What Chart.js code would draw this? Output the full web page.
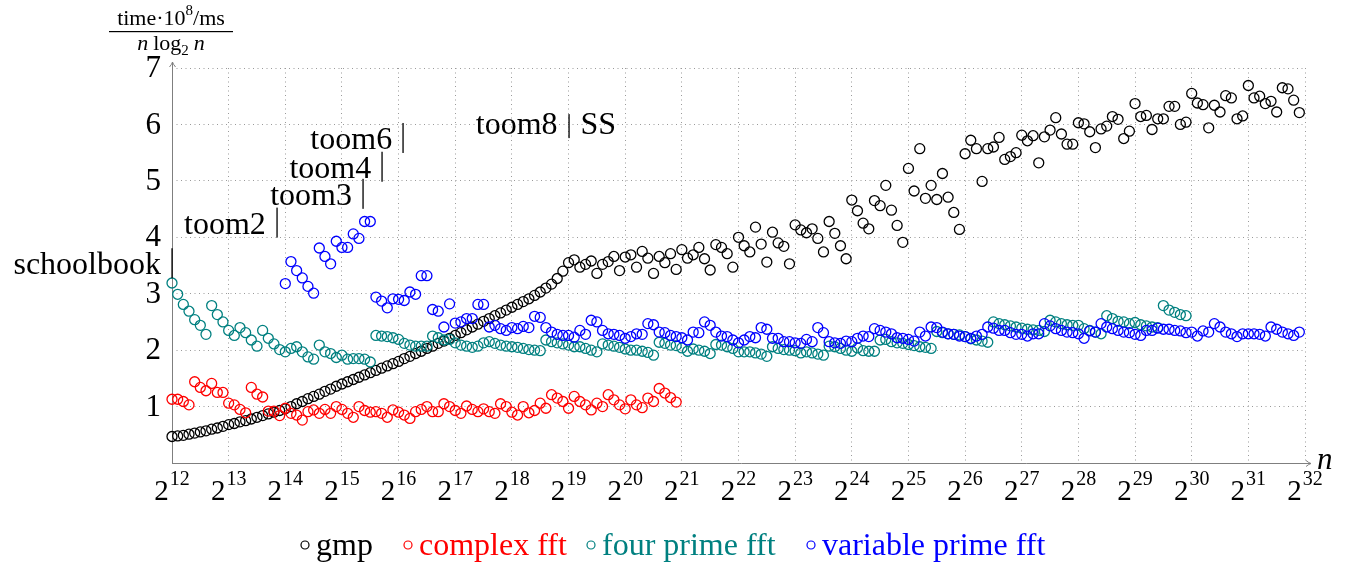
<!DOCTYPE html>
<html><head><meta charset="utf-8">
<script src="https://cdn.jsdelivr.net/npm/chart.js@4/dist/chart.umd.min.js"></script>
<style>html,body{margin:0;padding:0;background:#fff;}canvas{display:block;}</style>
</head><body>
<canvas id="c" width="1348" height="565"></canvas>
<script>
// Samples are taken at n = 2^(start + k*STEP)
const STEP = 0.1;

const gmpStart = 12;
const gmp = [
  0.47,0.48,0.49,0.51,0.53,0.55,0.57,0.60,0.62,0.65,
  0.68,0.70,0.73,0.75,0.78,0.81,0.84,0.87,0.90,0.93,
  0.96,1.00,1.05,1.09,1.14,1.18,1.22,1.27,1.31,1.36,
  1.40,1.44,1.48,1.52,1.56,1.60,1.64,1.68,1.72,1.76,
  1.80,1.85,1.89,1.94,1.98,2.03,2.07,2.12,2.16,2.21,
  2.26,2.31,2.36,2.41,2.46,2.51,2.56,2.61,2.66,2.71,
  2.76,2.81,2.86,2.91,2.97,3.03,3.10,3.17,3.27,3.40,
  3.55,3.60,3.47,3.52,3.58,3.36,3.52,3.57,3.66,3.41,
  3.65,3.69,3.47,3.75,3.63,3.36,3.66,3.55,3.71,3.43,
  3.78,3.63,3.69,3.82,3.62,3.42,3.87,3.82,3.71,3.47,
  4.00,3.85,3.74,4.18,3.88,3.56,4.09,3.90,3.84,3.53,
  4.22,4.13,4.08,4.15,3.98,3.74,4.28,4.07,3.85,3.62,
  4.66,4.47,4.25,4.15,4.65,4.56,4.92,4.48,4.21,3.91,
  5.22,4.82,5.57,4.69,4.92,4.67,5.13,4.71,4.44,4.14,
  5.48,5.72,5.57,4.99,5.57,5.60,5.77,5.38,5.43,5.50,
  5.81,5.71,5.80,5.32,5.78,5.90,6.12,5.83,5.65,5.65,
  6.03,6.01,5.87,5.59,5.92,5.97,6.14,6.09,5.75,5.88,
  6.37,6.14,6.16,5.91,6.10,6.10,6.32,6.32,6.00,6.04,
  6.55,6.38,6.35,5.94,6.34,6.22,6.51,6.47,6.10,6.15,
  6.69,6.47,6.50,6.37,6.41,6.22,6.65,6.63,6.43,6.21
];

const complexStart = 12;
const complexFft = [
  1.13,1.13,1.09,1.03,1.44,1.34,1.28,1.41,1.25,1.25,
  1.06,1.03,0.95,0.89,1.34,1.22,1.17,0.92,0.92,0.84,
  0.97,0.88,0.85,0.76,0.91,0.94,0.88,0.95,0.88,1.00,
  0.95,0.88,0.81,1.00,0.93,0.90,0.91,0.88,0.81,0.94,
  0.90,0.85,0.79,0.91,0.95,1.00,0.91,0.91,1.05,1.00,
  0.93,0.88,1.01,0.95,0.91,0.96,0.91,0.88,1.05,1.00,
  0.90,0.85,1.00,0.89,0.93,1.06,0.97,1.21,1.15,1.09,
  0.97,1.18,1.09,1.03,0.94,1.06,1.00,1.21,1.12,1.03,
  0.96,1.12,1.03,0.98,1.15,1.09,1.32,1.24,1.16,1.08
];

const fourPrimeStart = 12;
const fourPrimeFft = [
  3.19,2.99,2.81,2.69,2.54,2.44,2.28,2.79,2.63,2.50,
  2.35,2.26,2.40,2.31,2.18,2.07,2.35,2.21,2.11,2.01,
  1.97,2.03,2.06,1.97,1.88,1.84,2.09,1.97,1.94,1.87,
  1.91,1.84,1.85,1.85,1.84,1.79,2.26,2.25,2.24,2.22,
  2.19,2.12,2.09,2.07,2.07,2.07,2.25,2.22,2.18,2.19,
  2.13,2.09,2.07,2.05,2.07,2.13,2.15,2.12,2.09,2.07,
  2.06,2.05,2.03,2.01,2.00,1.99,2.18,2.15,2.13,2.11,
  2.09,2.06,2.06,2.03,2.00,1.97,2.11,2.09,2.07,2.05,
  2.02,2.00,2.00,1.98,1.96,1.91,2.14,2.12,2.09,2.08,
  2.04,1.98,2.02,2.00,1.98,1.94,2.10,2.09,2.06,2.03,
  1.97,1.97,1.97,1.95,1.93,1.89,2.06,2.03,2.01,2.00,
  1.99,1.95,1.97,1.95,1.93,1.91,2.07,2.06,2.03,2.00,
  1.98,2.04,1.99,1.98,1.98,2.18,2.19,2.15,2.13,2.12,
  2.10,2.08,2.06,2.05,2.03,2.33,2.31,2.29,2.28,2.27,
  2.24,2.20,2.18,2.16,2.14,2.50,2.47,2.45,2.43,2.41,
  2.39,2.37,2.36,2.35,2.33,2.53,2.50,2.47,2.45,2.44,
  2.44,2.38,2.35,2.32,2.29,2.61,2.56,2.51,2.50,2.47,
  2.49,2.45,2.43,2.41,2.40,2.79,2.71,2.67,2.63,2.61
];

const variablePrimeStart = 14;
const variablePrimeFft = [
  3.18,3.57,3.41,3.28,3.13,3.01,3.81,3.66,3.53,3.93,
  3.82,3.82,4.06,3.98,4.28,4.28,2.94,2.87,2.75,2.91,
  2.90,2.88,3.03,2.99,3.32,3.32,2.72,2.69,2.41,2.82,
  2.48,2.50,2.56,2.56,2.81,2.81,2.41,2.44,2.38,2.35,
  2.40,2.38,2.42,2.40,2.60,2.58,2.40,2.32,2.28,2.26,
  2.26,2.23,2.35,2.28,2.53,2.50,2.35,2.29,2.28,2.26,
  2.21,2.24,2.29,2.28,2.47,2.45,2.32,2.31,2.26,2.24,
  2.22,2.18,2.32,2.31,2.50,2.44,2.32,2.25,2.24,2.18,
  2.13,2.18,2.24,2.22,2.40,2.37,2.21,2.21,2.15,2.15,
  2.13,2.12,2.19,2.15,2.40,2.31,2.15,2.13,2.12,2.16,
  2.15,2.21,2.25,2.24,2.38,2.35,2.32,2.29,2.22,2.21,
  2.19,2.16,2.32,2.25,2.41,2.40,2.32,2.29,2.28,2.25,
  2.24,2.21,2.25,2.28,2.41,2.39,2.35,2.35,2.31,2.28,
  2.28,2.25,2.29,2.29,2.47,2.43,2.38,2.35,2.32,2.31,
  2.29,2.21,2.34,2.32,2.47,2.41,2.38,2.35,2.32,2.31,
  2.28,2.26,2.35,2.35,2.39,2.37,2.37,2.35,2.34,2.31,
  2.32,2.25,2.34,2.32,2.47,2.41,2.32,2.29,2.24,2.29,
  2.29,2.29,2.28,2.25,2.41,2.37,2.32,2.29,2.26,2.32
];

const seriesLabels = ['gmp', 'complex fft', 'four prime fft', 'variable prime fft'];
const xTickExponents = [12,13,14,15,16,17,18,19,20,21,22,23,24,25,26,27,28,29,30,31,32];
const yTickValues = [1,2,3,4,5,6,7];

// Algorithm thresholds (log2 n) and label heights
const thresholdNames = ['schoolbook', 'toom2', 'toom3', 'toom4', 'toom6', 'toom8'];
const thresholdLog2 = [12, 13.85, 15.37, 15.71, 16.08, 19.0];
const thresholdLevel = [3.54, 4.26, 4.77, 5.25, 5.76, 5.97];

// ---------- styling ----------
const COLORS = ['#000000', '#ff0000', '#008080', '#0000ff'];
const SERIF = '"Liberation Serif", "DejaVu Serif", serif';

function toPoints(start, values) {
  return values.map((v, i) => ({ x: Math.round((start + i * STEP) * 100) / 100, y: v }));
}

const seriesData = [
  toPoints(gmpStart, gmp),
  toPoints(complexStart, complexFft),
  toPoints(fourPrimeStart, fourPrimeFft),
  toPoints(variablePrimeStart, variablePrimeFft)
];

const datasets = seriesData.map((pts, i) => ({
  label: seriesLabels[i],
  data: pts,
  showLine: false,
  pointStyle: 'circle',
  pointRadius: 5,
  pointBorderWidth: 1.3,
  pointBorderColor: COLORS[i],
  borderColor: COLORS[i],
  pointBackgroundColor: 'rgba(0,0,0,0)',
  backgroundColor: 'rgba(0,0,0,0)',
  clip: false,
  order: 3 - i
}));

function arrowHead(ctx, x, y, dir) {
  ctx.beginPath();
  if (dir === 'up') {
    ctx.moveTo(x - 3, y + 5); ctx.quadraticCurveTo(x - 0.5, y + 2, x, y);
    ctx.quadraticCurveTo(x + 0.5, y + 2, x + 3, y + 5);
  } else {
    ctx.moveTo(x - 5, y - 3); ctx.quadraticCurveTo(x - 2, y - 0.5, x, y);
    ctx.quadraticCurveTo(x - 2, y + 0.5, x - 5, y + 3);
  }
  ctx.stroke();
}

const decor = {
  id: 'decor',
  beforeDatasetsDraw(chart) {
    const { ctx, chartArea: a } = chart;
    ctx.save();
    ctx.strokeStyle = '#7f7f7f';
    ctx.lineWidth = 1;
    ctx.beginPath();
    ctx.moveTo(a.left, a.bottom + 0.5); ctx.lineTo(a.right + 6, a.bottom + 0.5);
    ctx.moveTo(a.left + 0.5, a.bottom); ctx.lineTo(a.left + 0.5, a.top - 6);
    ctx.stroke();
    arrowHead(ctx, a.left + 0.5, a.top - 6, 'up');
    arrowHead(ctx, a.right + 6, a.bottom + 0.5, 'right');
    ctx.restore();
  },
  afterDraw(chart) {
    const { ctx, chartArea: a, scales: { x: xs, y: ys } } = chart;
    ctx.save();
    ctx.fillStyle = '#000';
    ctx.textBaseline = 'alphabetic';

    // x tick labels 2^k
    xTickExponents.forEach(k => {
      const px = xs.getPixelForValue(k);
      ctx.font = '29px ' + SERIF;
      const wb = ctx.measureText('2').width;
      ctx.font = '20px ' + SERIF;
      const we = ctx.measureText(String(k)).width;
      const x0 = px - (wb + we + 1) / 2;
      ctx.font = '29px ' + SERIF;
      ctx.textAlign = 'left';
      ctx.fillText('2', x0, a.bottom + 37);
      ctx.font = '20px ' + SERIF;
      ctx.fillText(String(k), x0 + wb + 1, a.bottom + 22);
    });

    // y tick labels
    ctx.font = '31px ' + SERIF;
    ctx.textAlign = 'right';
    ctx.textBaseline = 'middle';
    yTickValues.forEach(v => {
      ctx.fillText(String(v), a.left - 11, ys.getPixelForValue(v) + 1);
    });
    ctx.textBaseline = 'alphabetic';

    // x axis label
    ctx.font = 'italic 31px ' + SERIF;
    ctx.textAlign = 'left';
    ctx.fillText('n', a.right + 12, a.bottom + 6);

    // y axis label as fraction
    const cx = a.left - 1;
    ctx.font = '22px ' + SERIF;
    const p1 = 'time\u00B710', p2 = '8', p3 = '/ms';
    const w1 = ctx.measureText(p1).width, w3 = ctx.measureText(p3).width;
    ctx.font = '15px ' + SERIF;
    const w2 = ctx.measureText(p2).width;
    let nx = cx - (w1 + w2 + w3) / 2;
    ctx.font = '22px ' + SERIF;
    ctx.fillText(p1, nx, 25);
    ctx.font = '15px ' + SERIF;
    ctx.fillText(p2, nx + w1, 15);
    ctx.font = '22px ' + SERIF;
    ctx.fillText(p3, nx + w1 + w2, 25);
    ctx.fillRect(cx - 62, 31, 124, 1.2);
    // denominator: n log2 n
    ctx.font = 'italic 22px ' + SERIF;
    const wn = ctx.measureText('n').width;
    ctx.font = '22px ' + SERIF;
    const wl = ctx.measureText('log').width;
    ctx.font = '15px ' + SERIF;
    const ws = ctx.measureText('2').width;
    const gap = 5;
    const tot = wn + gap + wl + ws + gap + wn;
    let dx = cx - tot / 2;
    ctx.font = 'italic 22px ' + SERIF; ctx.fillText('n', dx, 50); dx += wn + gap;
    ctx.font = '22px ' + SERIF; ctx.fillText('log', dx, 50); dx += wl;
    ctx.font = '15px ' + SERIF; ctx.fillText('2', dx, 55); dx += ws + gap;
    ctx.font = 'italic 22px ' + SERIF; ctx.fillText('n', dx, 50);

    // threshold annotations
    ctx.font = '32px ' + SERIF;
    thresholdNames.forEach((name, i) => {
      const bx = xs.getPixelForValue(thresholdLog2[i]);
      const by = ys.getPixelForValue(thresholdLevel[i]);
      const h = i === 5 ? 12 : 15;
      ctx.fillRect(Math.round(bx) - 0.6, by - h, 1.3, 2 * h);
      ctx.textAlign = 'right';
      ctx.fillText(name, bx - 11, by + h - 4);
      if (i === 5) {
        ctx.textAlign = 'left';
        ctx.fillText('SS', bx + 12, by + h - 4);
      }
    });

    // legend
    const markerX = [305, 408, 591, 811];
    const ly = 545;
    chart.data.datasets.forEach((ds, i) => {
      ctx.strokeStyle = COLORS[i];
      ctx.lineWidth = 1.2;
      ctx.beginPath();
      ctx.arc(markerX[i], ly, 4, 0, Math.PI * 2);
      ctx.stroke();
      ctx.fillStyle = COLORS[i];
      ctx.font = '32px ' + SERIF;
      ctx.textAlign = 'left';
      ctx.fillText(ds.label, markerX[i] + 11, ly + 10);
    });
    ctx.restore();
  }
};

new Chart(document.getElementById('c'), {
  type: 'scatter',
  data: { datasets },
  options: {
    responsive: false,
    animation: false,
    devicePixelRatio: 1,
    layout: { padding: { left: 172, right: 43, top: 68, bottom: 102 } },
    plugins: { legend: { display: false }, tooltip: { enabled: false } },
    scales: {
      x: {
        type: 'linear', min: 12, max: 32,
        ticks: { display: false, stepSize: 1 },
        grid: { color: '#9a9a9a', lineWidth: 1, drawTicks: false },
        border: { display: false, dash: [1, 3.5] }
      },
      y: {
        type: 'linear', min: 0, max: 7,
        ticks: { display: false, stepSize: 1 },
        grid: { color: '#9a9a9a', lineWidth: 1, drawTicks: false },
        border: { display: false, dash: [1, 3.5] }
      }
    }
  },
  plugins: [decor]
});
</script>
</body></html>
